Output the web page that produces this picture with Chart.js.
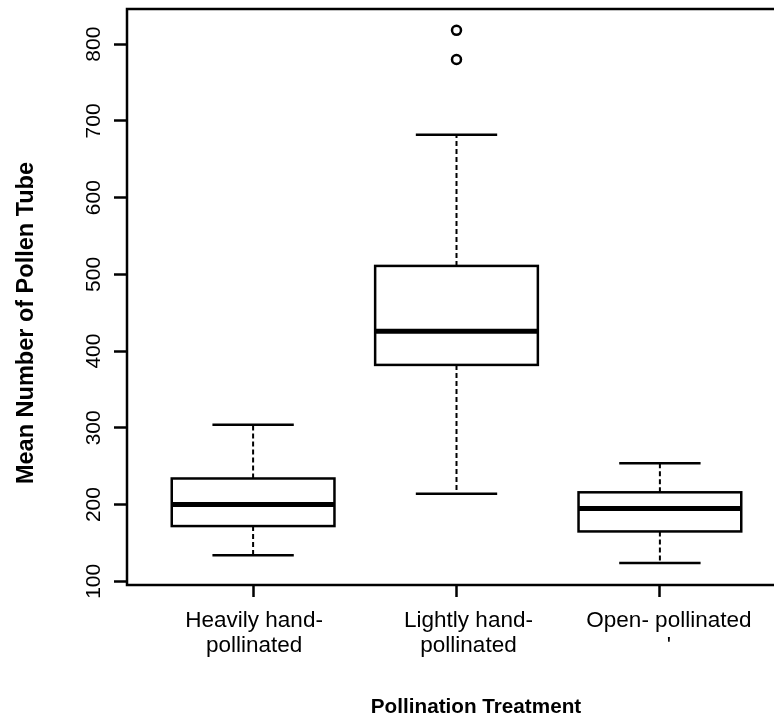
<!DOCTYPE html>
<html>
<head>
<meta charset="utf-8">
<script src="https://cdn.jsdelivr.net/npm/chart.js@4"></script>
<style>
  html, body { margin: 0; padding: 0; background: #fff; overflow: hidden; }
  #wrap { width: 800px; height: 724px; }
</style>
</head>
<body>
<div id="wrap"><canvas id="boxChart"></canvas></div>
<script>
// box plot: mean number of pollen tubes by treatment

const categories = [
    ["Heavily hand-", "pollinated"],
    ["Lightly hand-", "pollinated"],
    ["Open- pollinated", "'"]
];

const lowerWhisker = [134, 214, 124];
const q1 = [172, 382, 165];
const median = [200, 426, 195];
const q3 = [234, 511, 216];
const upperWhisker = [304, 682, 254];
const outliers = [[], [780, 818], []];

const yTicks = [100, 200, 300, 400, 500, 600, 700, 800];

// small shifts of the category labels as seen in the picture
const labelShift = [1, 12, 9];

const outlierPoints = [];
outliers.forEach((list, i) => {
    list.forEach(v => outlierPoints.push({ x: i + 1, y: v }));
});

const boxPlugin = {
    id: "boxes",
    beforeDatasetsDraw(chart) {
        const ctx = chart.ctx;
        const xs = chart.scales.x;
        const ys = chart.scales.y;

        categories.forEach((c, i) => {
            const pos = i + 1;
            const xc = xs.getPixelForValue(pos);
            const left = xs.getPixelForValue(pos - 0.4);
            const right = xs.getPixelForValue(pos + 0.4);
            const capL = xs.getPixelForValue(pos - 0.2);
            const capR = xs.getPixelForValue(pos + 0.2);

            ctx.save();
            ctx.strokeStyle = "#000";

            // whiskers
            ctx.lineWidth = 2;
            ctx.setLineDash([5, 3]);
            ctx.beginPath();
            ctx.moveTo(xc, ys.getPixelForValue(q3[i]));
            ctx.lineTo(xc, ys.getPixelForValue(upperWhisker[i]));
            ctx.moveTo(xc, ys.getPixelForValue(q1[i]));
            ctx.lineTo(xc, ys.getPixelForValue(lowerWhisker[i]));
            ctx.stroke();
            ctx.setLineDash([]);

            // caps
            ctx.lineWidth = 2.5;
            ctx.beginPath();
            ctx.moveTo(capL, ys.getPixelForValue(upperWhisker[i]));
            ctx.lineTo(capR, ys.getPixelForValue(upperWhisker[i]));
            ctx.moveTo(capL, ys.getPixelForValue(lowerWhisker[i]));
            ctx.lineTo(capR, ys.getPixelForValue(lowerWhisker[i]));
            ctx.stroke();

            // box
            const top = ys.getPixelForValue(q3[i]);
            const bottom = ys.getPixelForValue(q1[i]);
            ctx.fillStyle = "#fff";
            ctx.fillRect(left, top, right - left, bottom - top);
            ctx.lineWidth = 2.5;
            ctx.strokeRect(left, top, right - left, bottom - top);

            // median
            ctx.lineWidth = 5;
            ctx.beginPath();
            ctx.moveTo(left, ys.getPixelForValue(median[i]));
            ctx.lineTo(right, ys.getPixelForValue(median[i]));
            ctx.stroke();
            ctx.restore();
        });
    },
    afterDraw(chart) {
        const ctx = chart.ctx;
        const area = chart.chartArea;
        const xs = chart.scales.x;
        const ys = chart.scales.y;

        ctx.save();
        ctx.strokeStyle = "#000";
        ctx.lineWidth = 2.5;
        ctx.strokeRect(area.left, area.top, area.right - area.left, area.bottom - area.top);

        ctx.fillStyle = "#000";

        // y tick labels, turned
        ctx.font = "21px 'Liberation Sans', Arial, sans-serif";
        ctx.textAlign = "center";
        ctx.textBaseline = "alphabetic";
        yTicks.forEach(v => {
            ctx.save();
            ctx.translate(100, ys.getPixelForValue(v));
            ctx.rotate(-Math.PI / 2);
            ctx.fillText(String(v), 0, 0);
            ctx.restore();
        });

        // category labels
        ctx.font = "22.5px 'Liberation Sans', Arial, sans-serif";
        categories.forEach((lines, i) => {
            const x = xs.getPixelForValue(i + 1) + labelShift[i];
            lines.forEach((line, k) => {
                ctx.fillText(line, x, 627 + k * 25);
            });
        });

        // axis titles
        ctx.font = "bold 20.7px 'Liberation Sans', Arial, sans-serif";
        ctx.fillText("Pollination Treatment", 476, 713);

        ctx.font = "bold 23.5px 'Liberation Sans', Arial, sans-serif";
        ctx.save();
        ctx.translate(33, 323);
        ctx.rotate(-Math.PI / 2);
        ctx.fillText("Mean Number of Pollen Tube", 0, 0);
        ctx.restore();

        ctx.restore();
    }
};

const ctx = document.getElementById("boxChart");

new Chart(ctx, {
    type: "scatter",
    data: {
        datasets: [
            {
                label: "outliers",
                data: outlierPoints,
                pointRadius: 4.5,
                pointBorderWidth: 2.5,
                pointBackgroundColor: "#fff",
                pointBorderColor: "#000"
            }
        ]
    },
    options: {
        responsive: true,
        maintainAspectRatio: false,
        animation: false,
        layout: {
            padding: { top: 9, right: 14, left: 0, bottom: 0 }
        },
        plugins: {
            legend: { display: false },
            tooltip: { enabled: false }
        },
        scales: {
            x: {
                type: "linear",
                min: 0.38,
                max: 3.62,
                afterBuildTicks: (scale) => {
                    scale.ticks = categories.map((c, i) => ({ value: i + 1 }));
                },
                afterFit: (scale) => { scale.height = 139; },
                grid: {
                    drawOnChartArea: false,
                    tickLength: 12,
                    tickWidth: 2.5,
                    tickColor: "#000"
                },
                border: { display: false },
                ticks: { display: false }
            },
            y: {
                min: 95.2,
                max: 845.8,
                afterBuildTicks: (scale) => {
                    scale.ticks = yTicks.map(v => ({ value: v }));
                },
                afterFit: (scale) => { scale.width = 127; },
                grid: {
                    drawOnChartArea: false,
                    tickLength: 13,
                    tickWidth: 2.5,
                    tickColor: "#000"
                },
                border: { display: false },
                ticks: { display: false }
            }
        }
    },
    plugins: [boxPlugin]
});
</script>
</body>
</html>
